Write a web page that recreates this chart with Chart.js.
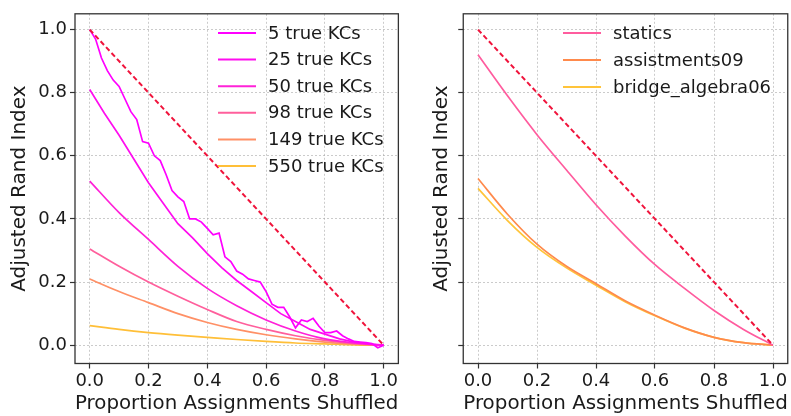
<!DOCTYPE html>
<html>
<head>
<meta charset="utf-8">
<script src="https://cdn.jsdelivr.net/npm/chart.js@4.4.1/dist/chart.umd.min.js"></script>
<style>
html, body { margin: 0; padding: 0; background: #fff; }
#wrap { position: relative; width: 791px; height: 416px; overflow: hidden; }
#leftBox { position: absolute; left: 0; top: 0; width: 400px; height: 416px; }
#rightBox { position: absolute; left: 400px; top: 0; width: 391px; height: 416px; }
</style>
</head>
<body>
<div id="wrap">
	<div id="leftBox"><canvas id="leftChart"></canvas></div>
	<div id="rightBox"><canvas id="rightChart"></canvas></div>
</div>
<script>
// proportion of assignments shuffled (x positions of the samples)
var shuffleFine = [0, 0.02, 0.04, 0.06, 0.08, 0.10, 0.12, 0.14, 0.16, 0.18, 0.20, 0.22, 0.24, 0.26, 0.28, 0.30, 0.32, 0.34, 0.36, 0.38, 0.40,
	0.42, 0.44, 0.46, 0.48, 0.50, 0.52, 0.54, 0.56, 0.58, 0.60, 0.62, 0.64, 0.66, 0.68, 0.70, 0.72, 0.74, 0.76, 0.78, 0.80,
	0.82, 0.84, 0.86, 0.88, 0.90, 0.92, 0.94, 0.96, 0.98, 1.0];
var shuffleHalf = [0, 0.05, 0.10, 0.15, 0.20, 0.25, 0.30, 0.35, 0.40, 0.45, 0.50, 0.55, 0.60, 0.65, 0.70, 0.75, 0.80, 0.85, 0.90, 0.95, 1.0];
var shuffleTenth = [0, 0.1, 0.2, 0.3, 0.4, 0.5, 0.6, 0.7, 0.8, 0.9, 1.0];

// left panel: simulated KCs
var kc5 = [1.0, 0.97, 0.91, 0.87, 0.84, 0.82, 0.78, 0.74, 0.715, 0.645, 0.64, 0.60, 0.585, 0.54, 0.49, 0.47, 0.455, 0.40, 0.40, 0.39, 0.37,
	0.35, 0.355, 0.28, 0.265, 0.235, 0.225, 0.21, 0.205, 0.20, 0.17, 0.13, 0.12, 0.12, 0.09, 0.055, 0.08, 0.075, 0.085, 0.06, 0.04,
	0.04, 0.045, 0.03, 0.02, 0.012, 0.01, 0.008, 0.005, -0.008, 0];
var kc25 = [0.81, 0.735, 0.665, 0.59, 0.515, 0.45, 0.385, 0.34, 0.29, 0.245, 0.205, 0.17, 0.135, 0.10, 0.075, 0.05, 0.035, 0.02, 0.01, 0.004, 0];
var kc50 = [0.52, 0.42, 0.335, 0.25, 0.18, 0.125, 0.08, 0.045, 0.02, 0.007, 0];
var kc98 = [0.305, 0.25, 0.20, 0.155, 0.113, 0.075, 0.05, 0.03, 0.015, 0.005, 0];
var kc149 = [0.21, 0.17, 0.135, 0.10, 0.072, 0.05, 0.033, 0.02, 0.01, 0.003, 0];
var kc550 = [0.062, 0.05, 0.04, 0.032, 0.025, 0.018, 0.012, 0.007, 0.004, 0.001, 0];

// right panel: real datasets
var statics = [0.92, 0.79, 0.667, 0.555, 0.445, 0.345, 0.255, 0.18, 0.11, 0.05, 0];
var assistments09 = [0.528, 0.415, 0.32, 0.25, 0.195, 0.14, 0.095, 0.055, 0.025, 0.008, 0];
var bridgeAlgebra06 = [0.497, 0.395, 0.31, 0.245, 0.19, 0.137, 0.093, 0.054, 0.025, 0.008, 0];

// y = 1 - x reference
var refX = [0, 1];
var refY = [1, 0];

var tickVals = [0, 0.2, 0.4, 0.6, 0.8, 1.0];

var FONT = 'DejaVu Sans';
Chart.defaults.font.family = FONT;
Chart.defaults.color = '#222';

var toPoints = function(xs, ys) {
	return xs.map(function(x, i) { return {x: x, y: ys[i]}; });
};

var lineSet = function(label, xs, ys, color, smooth) {
	return {
		label: label,
		data: toPoints(xs, ys),
		borderColor: color,
		backgroundColor: color,
		borderWidth: 1.7,
		pointRadius: 0,
		tension: 0,
		cubicInterpolationMode: smooth ? 'monotone' : 'default',
		fill: false
	};
};

var refSet = function() {
	return {
		label: null,
		data: toPoints(refX, refY),
		borderColor: '#f0143c',
		borderWidth: 2,
		borderDash: [5, 3],
		pointRadius: 0,
		fill: false
	};
};

// axes box on all four sides
var framePlugin = {
	id: 'frame',
	afterDraw: function(chart) {
		var a = chart.chartArea, c = chart.ctx;
		c.save();
		c.strokeStyle = '#333';
		c.lineWidth = 1.3;
		c.strokeRect(a.left, a.top, a.right - a.left, a.bottom - a.top);
		c.restore();
	}
};

// legend drawn inside the plot, top right
var insideLegend = {
	id: 'insideLegend',
	afterDraw: function(chart, args, opts) {
		var c = chart.ctx;
		c.save();
		c.font = '18px ' + FONT;
		c.textBaseline = 'middle';
		c.textAlign = 'left';
		var row = 0;
		chart.data.datasets.forEach(function(ds) {
			if (!ds.label) return;
			var y = opts.y + row * opts.gap;
			c.strokeStyle = ds.borderColor;
			c.lineWidth = 2;
			c.beginPath();
			c.moveTo(opts.x, y);
			c.lineTo(opts.x + 38, y);
			c.stroke();
			c.fillStyle = '#1a1a1a';
			c.fillText(ds.label, opts.x + 50, y + 1);
			row++;
		});
		c.restore();
	}
};

var makeScales = function(showYLabels, yWidth, yTitlePad) {
	var gridStyle = {
		color: 'rgba(160,160,160,0.55)',
		tickColor: '#333',
		tickLength: 5,
		tickWidth: 1.2,
		tickBorderDash: []
	};
	var borderStyle = { display: false, dash: [2, 2] };
	return {
		x: {
			type: 'linear',
			min: -0.05,
			max: 1.05,
			border: borderStyle,
			grid: gridStyle,
			afterBuildTicks: function(s) { s.ticks = tickVals.map(function(v) { return {value: v}; }); },
			afterFit: function(s) { s.height = 52.5; },
			ticks: {
				font: { size: 18 },
				color: '#1a1a1a',
				padding: 2,
				maxRotation: 0,
				callback: function(v) { return v.toFixed(1); }
			},
			title: {
				display: true,
				text: 'Proportion Assignments Shuffled',
				font: { size: 20 },
				color: '#1a1a1a',
				padding: { top: 0, bottom: 0 }
			}
		},
		y: {
			type: 'linear',
			min: -0.058,
			max: 1.05,
			border: borderStyle,
			grid: gridStyle,
			afterBuildTicks: function(s) { s.ticks = tickVals.map(function(v) { return {value: v}; }); },
			afterFit: function(s) { s.width = yWidth; },
			ticks: {
				font: { size: 18 },
				color: '#1a1a1a',
				padding: 3,
				callback: function(v) { return showYLabels ? v.toFixed(1) : ''; }
			},
			title: {
				display: true,
				text: 'Adjusted Rand Index',
				font: { size: 20 },
				color: '#1a1a1a',
				padding: { top: yTitlePad, bottom: 0 }
			}
		}
	};
};

var baseOptions = function(showYLabels, yWidth, yTitlePad, padRight, legendOpts) {
	return {
		responsive: true,
		maintainAspectRatio: false,
		animation: false,
		layout: { padding: { top: 11, right: padRight, left: 0, bottom: 0 } },
		plugins: {
			legend: { display: false },
			tooltip: { enabled: false },
			insideLegend: legendOpts
		},
		scales: makeScales(showYLabels, yWidth, yTitlePad)
	};
};

new Chart(document.getElementById('leftChart'), {
	type: 'line',
	data: {
		datasets: [
			refSet(),
			lineSet('5 true KCs', shuffleFine, kc5, '#ff00ff', false),
			lineSet('25 true KCs', shuffleHalf, kc25, '#ff0def', false),
			lineSet('50 true KCs', shuffleTenth, kc50, '#ff22d8', true),
			lineSet('98 true KCs', shuffleTenth, kc98, '#ff5f9c', true),
			lineSet('149 true KCs', shuffleTenth, kc149, '#ff9066', true),
			lineSet('550 true KCs', shuffleTenth, kc550, '#ffbf38', true)
		]
	},
	options: baseOptions(true, 75, 8, 0.25, { x: 218, y: 33, gap: 26.6 }),
	plugins: [framePlugin, insideLegend]
});

new Chart(document.getElementById('rightChart'), {
	type: 'line',
	data: {
		datasets: [
			refSet(),
			lineSet('statics', shuffleTenth, statics, '#ff5c9e', true),
			lineSet('assistments09', shuffleTenth, assistments09, '#ff8a4c', true),
			lineSet('bridge_algebra06', shuffleTenth, bridgeAlgebra06, '#ffc43a', true)
		]
	},
	options: baseOptions(false, 63.25, 30, 3.25, { x: 163, y: 33, gap: 27 }),
	plugins: [framePlugin, insideLegend]
});
</script>
</body>
</html>
